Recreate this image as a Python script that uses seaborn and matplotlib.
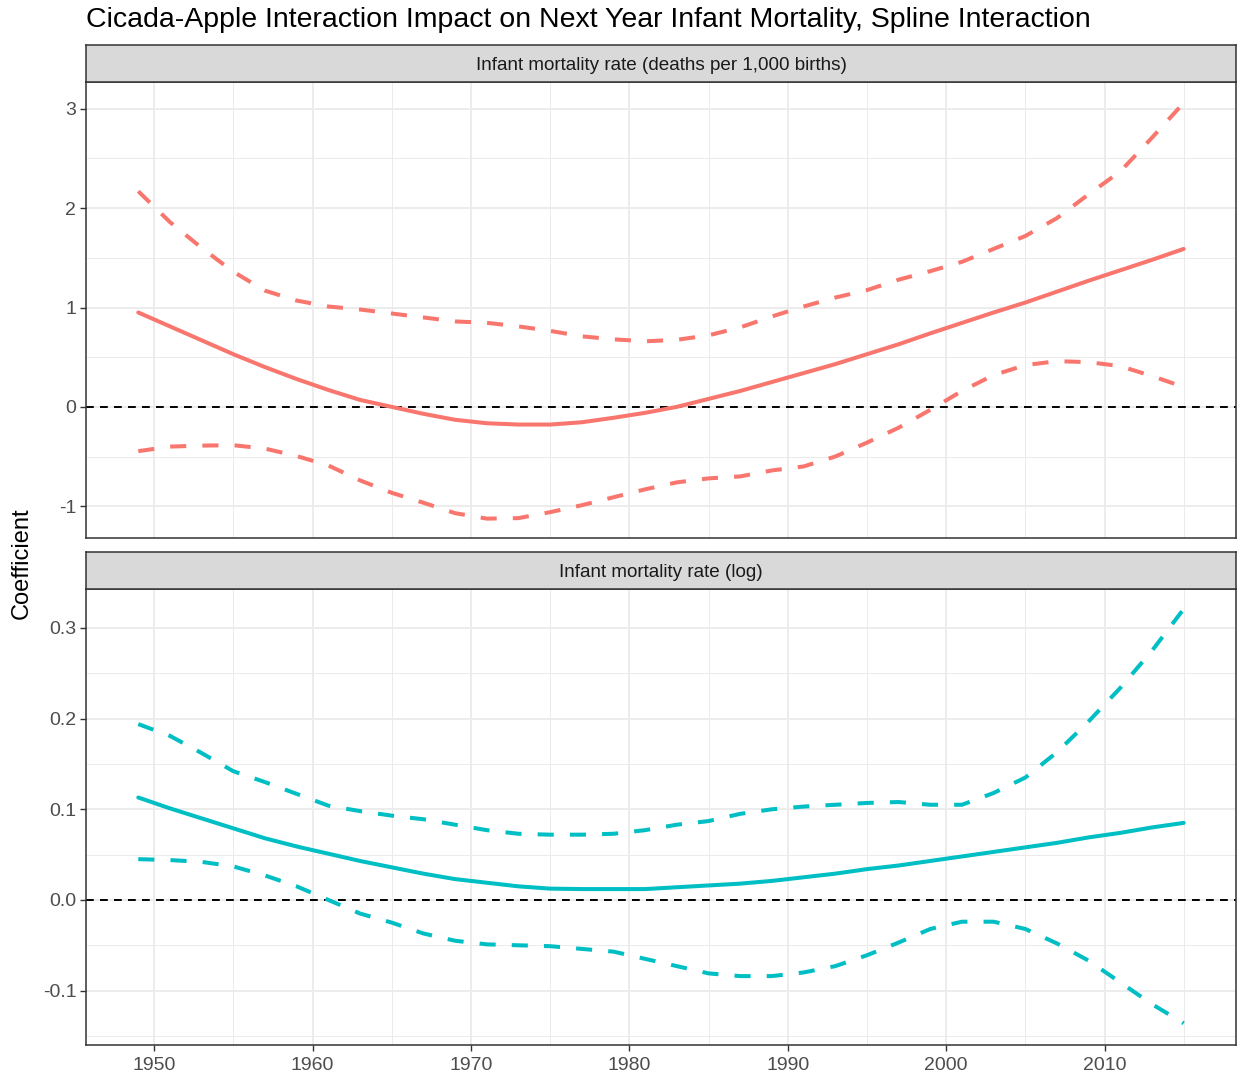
import matplotlib
matplotlib.use("Agg")
import matplotlib.pyplot as plt
import seaborn as sns
import pandas as pd
import numpy as np
from matplotlib.ticker import MultipleLocator, FormatStrFormatter

years = list(range(1949, 2016, 2))

rate_est = [0.95, 0.81, 0.67, 0.53, 0.40, 0.28, 0.17, 0.07, 0.0, -0.07, -0.13, -0.165,
            -0.178, -0.178, -0.155, -0.11, -0.06, 0.0, 0.08, 0.16, 0.25, 0.34, 0.43, 0.53,
            0.63, 0.74, 0.845, 0.95, 1.05, 1.16, 1.27, 1.375, 1.48, 1.59]
rate_hi = [2.17, 1.86, 1.60, 1.36, 1.17, 1.07, 1.01, 0.98, 0.94, 0.90, 0.86, 0.846,
           0.81, 0.765, 0.71, 0.68, 0.66, 0.675, 0.72, 0.80, 0.91, 1.01, 1.10, 1.175,
           1.28, 1.366, 1.46, 1.59, 1.72, 1.90, 2.14, 2.37, 2.71, 3.06]
rate_lo = [-0.446, -0.40, -0.39, -0.386, -0.42, -0.495, -0.59, -0.74, -0.865, -0.965,
           -1.07, -1.125, -1.12, -1.06, -0.99, -0.91, -0.83, -0.76, -0.72, -0.70, -0.64,
           -0.60, -0.50, -0.36, -0.21, -0.03, 0.16, 0.32, 0.42, 0.46, 0.45, 0.41, 0.31, 0.20]

log_est = [0.113, 0.101, 0.090, 0.079, 0.068, 0.059, 0.051, 0.043, 0.036, 0.029, 0.023,
           0.019, 0.015, 0.0125, 0.012, 0.012, 0.012, 0.014, 0.016, 0.018, 0.021, 0.025,
           0.029, 0.034, 0.038, 0.043, 0.048, 0.053, 0.058, 0.063, 0.069, 0.074, 0.080, 0.085]
log_hi = [0.194, 0.181, 0.162, 0.142, 0.130, 0.117, 0.104, 0.098, 0.093, 0.089, 0.083,
          0.077, 0.073, 0.072, 0.072, 0.073, 0.077, 0.083, 0.087, 0.095, 0.100, 0.103,
          0.105, 0.107, 0.108, 0.105, 0.105, 0.118, 0.135, 0.163, 0.197, 0.234, 0.275, 0.321]
log_lo = [0.045, 0.044, 0.042, 0.037, 0.027, 0.015, 0.0, -0.015, -0.025, -0.037, -0.045,
          -0.049, -0.050, -0.051, -0.054, -0.057, -0.065, -0.073, -0.081, -0.084, -0.084,
          -0.080, -0.073, -0.061, -0.047, -0.032, -0.024, -0.024, -0.032, -0.048, -0.067,
          -0.091, -0.115, -0.136]

panel_titles = ["Infant mortality rate (deaths per 1,000 births)", "Infant mortality rate (log)"]
colors = ["#F8766D", "#00BFC4"]
x_ticks = [1950, 1960, 1970, 1980, 1990, 2000, 2010]

sns.set_theme(style="whitegrid")
plt.rcParams['font.family'] = ['Liberation Sans', 'DejaVu Sans']

W, H = 1238, 1078
fig = plt.figure(figsize=(W / 100, H / 100), dpi=100)

def fx(px):
    return px / W

def fy(py):
    return 1 - py / H

panels = [
    dict(top=82, bot=538, strip_top=45, est=rate_est, hi=rate_hi, lo=rate_lo,
         ylim=(-1.32, 3.27), major=1.0, minor=0.5, fmt="%g"),
    dict(top=589, bot=1045, strip_top=552, est=log_est, hi=log_hi, lo=log_lo,
         ylim=(-0.16, 0.343), major=0.1, minor=0.05, fmt="%.1f"),
]

left, right = 86, 1236
for i, p in enumerate(panels):
    ax = fig.add_axes([fx(left), fy(p["bot"]), fx(right - left), (p["bot"] - p["top"]) / H])
    df = pd.DataFrame({"year": years, "est": p["est"], "hi": p["hi"], "lo": p["lo"]})
    c = colors[i]
    sns.lineplot(data=df, x="year", y="est", ax=ax, color=c, lw=2.9, estimator=None)
    for col in ["hi", "lo"]:
        sns.lineplot(data=df, x="year", y=col, ax=ax, color=c, lw=2.9, estimator=None,
                     linestyle=(0, (4.0, 4.0)))
    ax.axhline(0, color="black", lw=1.4, linestyle=(0, (4.0, 3.2)), zorder=1.5)
    ax.set_xlim(1945.7, 2018.3)
    ax.set_ylim(*p["ylim"])
    ax.xaxis.set_major_locator(MultipleLocator(10))
    ax.xaxis.set_minor_locator(MultipleLocator(5))
    ax.yaxis.set_major_locator(MultipleLocator(p["major"]))
    ax.yaxis.set_minor_locator(MultipleLocator(p["minor"]))
    ax.yaxis.set_major_formatter(FormatStrFormatter(p["fmt"]))
    ax.set_facecolor("white")
    ax.grid(which="major", color="#EBEBEB", lw=1.3)
    ax.grid(which="minor", color="#EBEBEB", lw=0.7)
    ax.set_axisbelow(True)
    for s in ax.spines.values():
        s.set_color("#333333")
        s.set_linewidth(1.1)
        s.set_visible(True)
    ax.set_xlabel("")
    ax.set_ylabel("")
    ax.tick_params(axis="y", which="major", length=4, width=1.0, color="#333333",
                   labelsize=14, labelcolor="#4D4D4D", pad=3, left=True)
    ax.tick_params(axis="y", which="minor", length=0)
    if i == 0:
        ax.tick_params(axis="x", which="both", length=0, labelbottom=False)
    else:
        ax.tick_params(axis="x", which="major", length=4, width=1.0, color="#333333",
                       labelsize=14, labelcolor="#4D4D4D", pad=5, bottom=True)
        ax.tick_params(axis="x", which="minor", length=0)
        ax.set_xticks(x_ticks)
        ax.set_xticklabels([str(t) for t in x_ticks])

    sax = fig.add_axes([fx(left), fy(p["top"]), fx(right - left), (p["top"] - p["strip_top"]) / H])
    sax.set_facecolor("#D9D9D9")
    sax.set_xticks([])
    sax.set_yticks([])
    sax.grid(False)
    for s in sax.spines.values():
        s.set_color("#333333")
        s.set_linewidth(1.1)
        s.set_visible(True)
    sax.text(0.5, 0.44, panel_titles[i], ha="center", va="center", fontsize=13.6,
             color="#1A1A1A", transform=sax.transAxes)

fig.text(fx(86), fy(20), "Cicada-Apple Interaction Impact on Next Year Infant Mortality, Spline Interaction",
         ha="left", va="center", fontsize=20.5, color="black")
fig.text(fx(22), fy(563), "Coefficient", rotation=90, ha="center", va="center",
         fontsize=17, color="black")

fig.savefig("out.png", dpi=100, facecolor="white")
